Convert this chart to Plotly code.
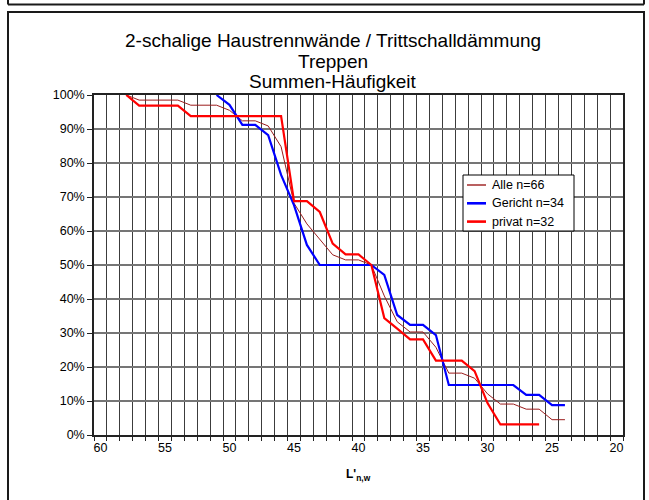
import plotly.graph_objects as go

# ---------------- data ----------------
alle_x = [58, 57, 56, 55, 54, 53, 52, 51, 50, 49, 48, 47, 46, 45, 44, 43, 42, 41,
          40, 39, 38, 37, 36, 35, 34, 33, 32, 31, 30, 29, 28, 27, 26, 25, 24]
alle_y = [100, 98.5, 98.5, 98.5, 98.5, 97.0, 97.0, 97.0, 95.5, 92.4, 92.4, 90.9,
          84.8, 68.2, 62.1, 57.6, 53.0, 51.5, 51.5, 50.0, 40.9, 33.3, 30.3, 30.3,
          25.8, 18.2, 18.2, 16.7, 12.1, 9.1, 9.1, 7.6, 7.6, 4.5, 4.5]

gericht_x = [51, 50, 49, 48, 47, 46, 45, 44, 43, 42, 41, 40, 39, 38, 37, 36, 35,
             34, 33, 32, 31, 30, 29, 28, 27, 26, 25, 24]
gericht_y = [100, 97.1, 91.2, 91.2, 88.2, 76.5, 67.6, 55.9, 50.0, 50.0, 50.0, 50.0,
             50.0, 47.1, 35.3, 32.4, 32.4, 29.4, 14.7, 14.7, 14.7, 14.7, 14.7, 14.7,
             11.8, 11.8, 8.8, 8.8]

privat_x = [58, 57, 56, 55, 54, 53, 52, 51, 50, 49, 48, 47, 46, 45, 44, 43, 42,
            41, 40, 39, 38, 37, 36, 35, 34, 33, 32, 31, 30, 29, 28, 27, 26]
privat_y = [100, 96.9, 96.9, 96.9, 96.9, 93.8, 93.8, 93.8, 93.8, 93.8, 93.8, 93.8,
            93.8, 68.8, 68.8, 65.6, 56.3, 53.1, 53.1, 50.0, 34.4, 31.3, 28.1, 28.1,
            21.9, 21.9, 21.9, 18.8, 9.4, 3.1, 3.1, 3.1, 3.1]

series_names = ["Alle n=66", "Gericht n=34", "privat n=32"]
series_colors = ["#9b1c1c", "#0000ff", "#ff0000"]
series_widths = [1, 2.2, 2.2]
x_tick_vals = [60, 55, 50, 45, 40, 35, 30, 25, 20]
x_tick_text = ["60", "55", "50", "45", "40", "35", "30", "25", "20"]
title_lines = ["2-schalige Haustrennwände / Trittschalldämmung", "Treppen", "Summen-Häufigkeit"]

# ---------------- layout geometry ----------------
W, H = 649, 500
L, R, T, B = 94, 623, 95, 435
FONT = "Arial, Liberation Sans, sans-serif"


def px2x(px):
    return (px - L) / (R - L)


def py2y(py):
    return (B - py) / (B - T)


fig = go.Figure()
for xs, ys, nm, col, wd in zip([alle_x, gericht_x, privat_x],
                               [alle_y, gericht_y, privat_y],
                               series_names, series_colors, series_widths):
    fig.add_trace(go.Scatter(x=xs, y=ys, mode="lines", name=nm, showlegend=False,
                             line=dict(color=col, width=wd)))

annotations = []
for txt, yy in zip(title_lines, [41, 61.5, 82]):
    annotations.append(dict(text=txt, x=px2x(333), y=py2y(yy), xref="paper", yref="paper",
                            showarrow=False, xanchor="center", yanchor="middle",
                            font=dict(family=FONT, size=19, color="black")))
annotations.append(dict(text="<b>L'<sub>n,w</sub></b>", x=px2x(358), y=py2y(475),
                        xref="paper", yref="paper", showarrow=False,
                        xanchor="center", yanchor="middle",
                        font=dict(family=FONT, size=12, color="black")))

frame = dict(color="#1a1a1a", width=2)
shapes = [
    # main chart frame
    dict(type="rect", xref="paper", yref="paper", x0=px2x(8), x1=px2x(644),
         y0=py2y(503), y1=py2y(12), line=frame, fillcolor="rgba(0,0,0,0)", layer="above"),
    # bottom of the frame above
    dict(type="line", xref="paper", yref="paper", x0=px2x(8), x1=px2x(644),
         y0=py2y(4.5), y1=py2y(4.5), line=frame),
    dict(type="line", xref="paper", yref="paper", x0=px2x(8), x1=px2x(8),
         y0=py2y(-3), y1=py2y(4.5), line=frame),
    dict(type="line", xref="paper", yref="paper", x0=px2x(644), x1=px2x(644),
         y0=py2y(-3), y1=py2y(4.5), line=frame),
    # legend box
    dict(type="rect", xref="paper", yref="paper", x0=px2x(463), x1=px2x(574),
         y0=py2y(231), y1=py2y(175), line=dict(color="black", width=1),
         fillcolor="white", layer="above"),
]

# legend entries (manual, to match the compact Excel legend)
for i, (nm, col, wd) in enumerate(zip(series_names, series_colors, series_widths)):
    ry = 185 + i * 18.3
    shapes.append(dict(type="line", xref="paper", yref="paper", x0=px2x(467), x1=px2x(486),
                       y0=py2y(ry), y1=py2y(ry), line=dict(color=col, width=wd + 0.4),
                       layer="above"))
    annotations.append(dict(text=nm, x=px2x(490), y=py2y(ry), xref="paper", yref="paper",
                            showarrow=False, xanchor="left", yanchor="middle",
                            font=dict(family=FONT, size=12.5, color="black")))

fig.update_layout(
    width=W, height=H,
    margin=dict(l=L, r=W - R, t=T, b=H - B, pad=0),
    paper_bgcolor="white", plot_bgcolor="white",
    font=dict(family=FONT, size=12, color="black"),
    showlegend=False,
    annotations=annotations,
    shapes=shapes,
    xaxis=dict(range=[60.5, 19.5], tickmode="array", tickvals=x_tick_vals,
               ticktext=x_tick_text, ticks="", showgrid=False, zeroline=False,
               showline=True, mirror=True, linecolor="#222", linewidth=1.5,
               tickfont=dict(family=FONT, size=12.5, color="black"),
               minor=dict(tickmode="linear", tick0=0.5, dtick=1, showgrid=True,
                          gridcolor="#3c3c3c", gridwidth=1, ticks="outside",
                          ticklen=4, tickcolor="#222", tickwidth=1)),
    yaxis=dict(range=[0, 100], tickmode="linear", tick0=0, dtick=10, ticksuffix="%",
               showgrid=True, gridcolor="#757575", gridwidth=1.5, zeroline=False,
               showline=True, mirror=True, linecolor="#222", linewidth=1.5,
               ticks="outside", ticklen=5, tickcolor="#222",
               tickfont=dict(family=FONT, size=12.5, color="black")),
)

fig.write_html("out.html", config={"displayModeBar": False},
               post_script="document.body.style.margin='0';")
